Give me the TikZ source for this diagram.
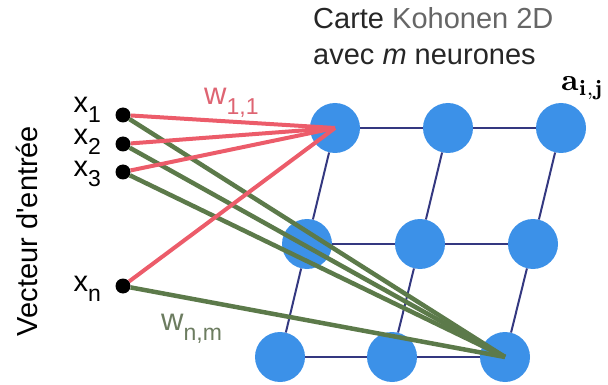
\documentclass[tikz,border=0pt]{standalone}
\usepackage[no-math]{fontspec}
\setmainfont{Liberation Sans}
\usepackage{graphicx}
\definecolor{neuronblue}{RGB}{60,145,232}
\definecolor{gridblue}{RGB}{52,56,128}
\definecolor{wred}{RGB}{236,92,106}
\definecolor{wgreen}{RGB}{92,122,74}
\definecolor{wredtxt}{RGB}{222,100,114}
\definecolor{wgreentxt}{RGB}{108,124,96}
\newcommand\lowidx[1]{\raisebox{-10pt}{\fontsize{23}{23}\selectfont #1}}
\tikzset{
  neuron/.style={circle, fill=neuronblue, minimum size=50pt, inner sep=0},
  indot/.style={circle, fill=black, minimum size=15pt, inner sep=0},
  gridlink/.style={gridblue, line width=2pt},
  wfirst/.style={wred, line width=4pt},
  wlast/.style={wgreen, line width=4.5pt},
  lbl/.style={font=\fontsize{29}{34}\selectfont, inner sep=0},
  wlbl/.style={font=\fontsize{31}{34}\selectfont, inner sep=0, anchor=base west}
}
\begin{document}
\begin{tikzpicture}[x=1pt,y=-1pt]
    \useasboundingbox (0,0) rectangle (608,385);

    \node[neuron] (n11) at (335,128) {};
    \node[neuron] (n12) at (448,128) {};
    \node[neuron] (n13) at (561,128) {};
    \node[neuron] (n21) at (307,244) {};
    \node[neuron] (n22) at (420,244) {};
    \node[neuron] (n23) at (533,244) {};
    \node[neuron] (n31) at (280,357) {};
    \node[neuron] (n32) at (392,357) {};
    \node[neuron] (n33) at (505,357) {};

    \draw[gridlink] (n11) -- (n12) -- (n13);
    \draw[gridlink] (n21) -- (n22) -- (n23);
    \draw[gridlink] (n31) -- (n32) -- (n33);
    \draw[gridlink] (n11) -- (n21) -- (n31);
    \draw[gridlink] (n12) -- (n22) -- (n32);
    \draw[gridlink] (n13) -- (n23) -- (n33);

    \node[indot] (x1) at (123,115) {};
    \node[indot] (x2) at (123,144) {};
    \node[indot] (x3) at (123,172) {};
    \node[indot] (xn) at (123,286) {};

    \node[lbl, anchor=base east] (lx1) at (101,113) {x\lowidx{1}};
    \node[lbl, anchor=base east] (lx2) at (101,145) {x\lowidx{2}};
    \node[lbl, anchor=base east] (lx3) at (101,176) {x\lowidx{3}};
    \node[lbl, anchor=base east] (lxn) at (101,291) {x\lowidx{n}};

    % poids vers le dernier neurone
    \draw[wlast] (x1) -- (n33.center);
    \draw[wlast] (x2) -- (n33.center);
    \draw[wlast] (x3) -- (n33.center);
    \draw[wlast] (xn) -- (n33.center);
    % poids vers le premier neurone
    \draw[wfirst] (x1) -- (n11.center);
    \draw[wfirst] (x2) -- (n11.center);
    \draw[wfirst] (x3) -- (n11.center);
    \draw[wfirst] (xn) -- (n11.center);

    \node[wlbl, text=wredtxt] (w11) at (204,105) {w\lowidx{1,1}};
    \node[wlbl, text=wgreentxt] (wnm) at (161,330) {w\lowidx{n,m}};

    \node[lbl, rotate=90, anchor=base] (vec) at (37,231) {Vecteur d\textquotesingle entrée};

    \node[lbl, text=black!85, anchor=base west] (title) at (313,29) {Carte {\color{black!60}Kohonen 2D}};
    \node[lbl, text=black!85, anchor=base west] (subtitle) at (313,65) {avec \textit{m} neurones};

    \node[inner sep=0, anchor=base west] (aij) at (561,91) {\scalebox{3.1}{$\mathbf{a}_{\mathbf{i,j}}$}};
\end{tikzpicture}
\end{document}
